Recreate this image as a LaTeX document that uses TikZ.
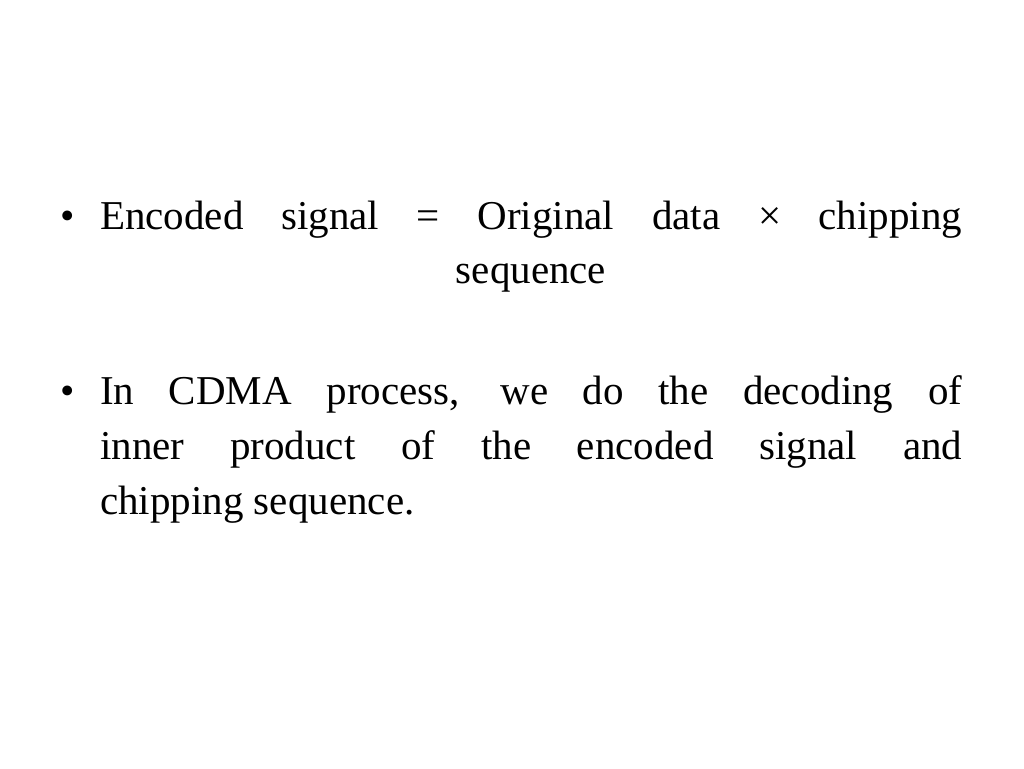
\documentclass[tikz,border=0pt]{standalone}
\usepackage{fontspec}
\setmainfont{Liberation Serif}
\begin{document}
\begin{tikzpicture}[x=1pt,y=1pt,txt/.style={inner sep=0pt,anchor=base west,font=\fontsize{41}{50}\selectfont}]
\useasboundingbox (0,0) rectangle (1024,768);
\node[txt] (b1) at (60,538) {•};
\node[txt] (l1) at (100,538) {\makebox[862pt][s]{Encoded signal = Original data × chipping}};
\node[txt,anchor=base] (l2) at (531,484) {sequence};
\node[txt] (b2) at (60,363) {•};
\node[txt] (l3) at (100,363) {\makebox[862pt][s]{In CDMA process, we do the decoding of}};
\node[txt] (l4) at (100,308) {\makebox[862pt][s]{inner product of the encoded signal and}};
\node[txt] (l5) at (100,253) {chipping sequence.};
\end{tikzpicture}
\end{document}
